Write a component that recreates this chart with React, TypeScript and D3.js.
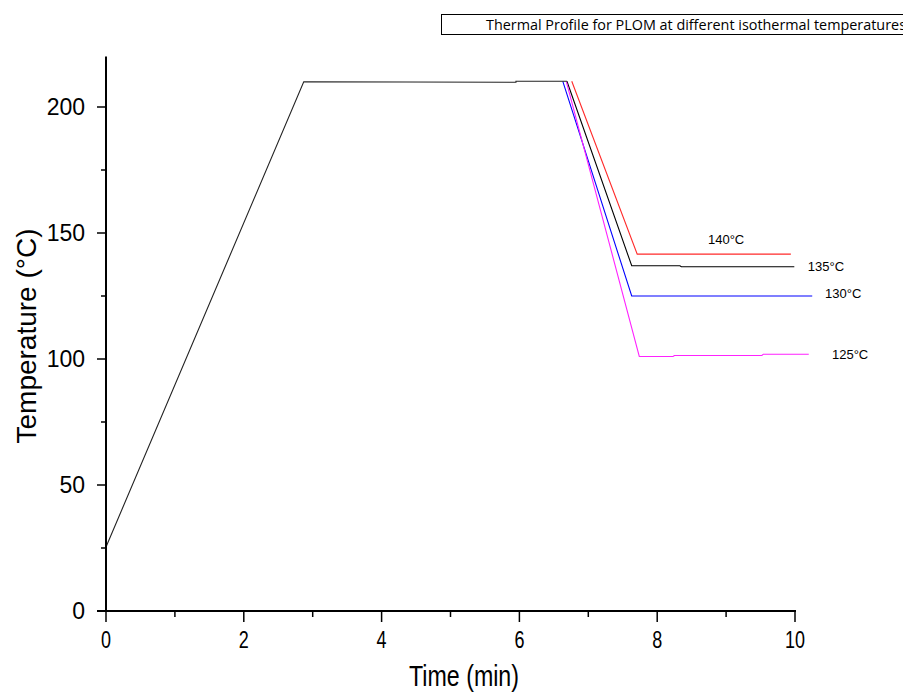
import React from "react";
import * as d3 from "d3";

// Data
const rampTime = [0, 2.87, 5.95, 5.95, 6.69];
const rampTemp = [25.4, 210, 209.8, 210.2, 210.2];

const time140 = [6.76, 7.71, 9.94];
const temp140 = [210.2, 141.6, 141.6];

const time135 = [6.69, 7.63, 8.33, 8.35, 9.99];
const temp135 = [210.2, 137.0, 137.0, 136.6, 136.6];

const time130 = [6.63, 7.63, 10.25];
const temp130 = [210.2, 125.0, 125.0];

const time125 = [6.68, 7.74, 8.23, 8.25, 9.52, 9.54, 10.2];
const temp125 = [210.2, 101.0, 101.0, 101.4, 101.4, 101.9, 101.9];

const seriesColors = ["#ff2a2a", "#000000", "#0000ff", "#ff22ff"];
const seriesLabels = ["140°C", "135°C", "130°C", "125°C"];
const labelTime = [9.0, 10.45, 10.7, 10.8];
const labelTemp = [147.6, 136.9, 125.8, 101.6];

const xTicks = [0, 2, 4, 6, 8, 10];
const xMinor = [1, 3, 5, 7, 9];
const yTicks = [0, 50, 100, 150, 200];
const yMinor = [25, 75, 125, 175];

const title = "Thermal Profile for PLOM at different isothermal temperatures";
const xTitle = "Time (min)";
const yTitle = "Temperature (°C)";

const W = 903;
const H = 695;

export default function App() {
  const x = d3.scaleLinear().domain([0, 10]).range([106, 795]);
  const y = d3.scaleLinear().domain([0, 220]).range([611, 611 - 220 * 2.52]);

  const line = d3
    .line<[number, number]>()
    .x((d) => x(d[0]))
    .y((d) => y(d[1]));

  const zip = (t: number[], v: number[]) => t.map((d, i) => [d, v[i]] as [number, number]);

  const colored = [
    zip(time140, temp140),
    zip(time135, temp135),
    zip(time130, temp130),
    zip(time125, temp125),
  ];

  const font = "Liberation Sans, Arial, sans-serif";

  return (
    <svg
      width={W}
      height={H}
      style={{ position: "absolute", left: 0, top: 0, background: "#fff" }}
      fontFamily={font}
    >
      <rect x={0} y={0} width={W} height={H} fill="#fff" />

      {/* title box */}
      <rect x={441.5} y={14.5} width={500} height={20} fill="none" stroke="#000" strokeWidth={1} />
      <text
        x={486}
        y={30}
        fontSize={14}
        fontFamily="Open Sans, Liberation Sans, sans-serif"
        textLength={420}
        lengthAdjust="spacingAndGlyphs"
        fill="#000"
      >
        {title}
      </text>

      {/* data lines */}
      {colored.map((pts, i) => (
        <path key={i} d={line(pts) || ""} fill="none" stroke={seriesColors[i]} strokeWidth={1.1} />
      ))}
      <path d={line(zip(rampTime, rampTemp)) || ""} fill="none" stroke="#222" strokeWidth={1.1} />

      {/* series labels */}
      {seriesLabels.map((s, i) => (
        <text
          key={s}
          x={x(labelTime[i])}
          y={y(labelTemp[i])}
          fontSize={13}
          textAnchor="middle"
          dominantBaseline="central"
          fill="#000"
        >
          {s}
        </text>
      ))}

      {/* axes */}
      <line x1={x(0)} x2={x(0)} y1={y(220)} y2={y(0) + 1} stroke="#000" strokeWidth={2} />
      <line x1={97} x2={x(10) + 1} y1={y(0)} y2={y(0)} stroke="#000" strokeWidth={2} />

      {yTicks.map((t) => (
        <g key={"y" + t}>
          <line x1={x(0) - 9} x2={x(0)} y1={y(t)} y2={y(t)} stroke="#000" strokeWidth={1.5} />
          <text x={85} y={y(t) + 8} fontSize={23} textAnchor="end" fill="#000">
            {t}
          </text>
        </g>
      ))}
      {yMinor.map((t) => (
        <line key={"ym" + t} x1={x(0) - 5} x2={x(0)} y1={y(t)} y2={y(t)} stroke="#000" strokeWidth={1.5} />
      ))}

      {xTicks.map((t) => (
        <g key={"x" + t}>
          <line x1={x(t)} x2={x(t)} y1={y(0)} y2={y(0) + 11} stroke="#000" strokeWidth={1.5} />
          <text
            x={x(t)}
            y={648}
            fontSize={24}
            textAnchor="middle"
            textLength={String(t).length * 10}
            lengthAdjust="spacingAndGlyphs"
            fill="#000"
          >
            {t}
          </text>
        </g>
      ))}
      {xMinor.map((t) => (
        <line key={"xm" + t} x1={x(t)} x2={x(t)} y1={y(0)} y2={y(0) + 6} stroke="#000" strokeWidth={1.5} />
      ))}

      {/* axis titles */}
      <text
        x={464}
        y={686}
        fontSize={29}
        textAnchor="middle"
        textLength={110}
        lengthAdjust="spacingAndGlyphs"
        fill="#000"
      >
        {xTitle}
      </text>
      <text
        transform="translate(36,336) rotate(-90)"
        fontSize={28}
        textAnchor="middle"
        fill="#000"
      >
        {yTitle}
      </text>
    </svg>
  );
}
